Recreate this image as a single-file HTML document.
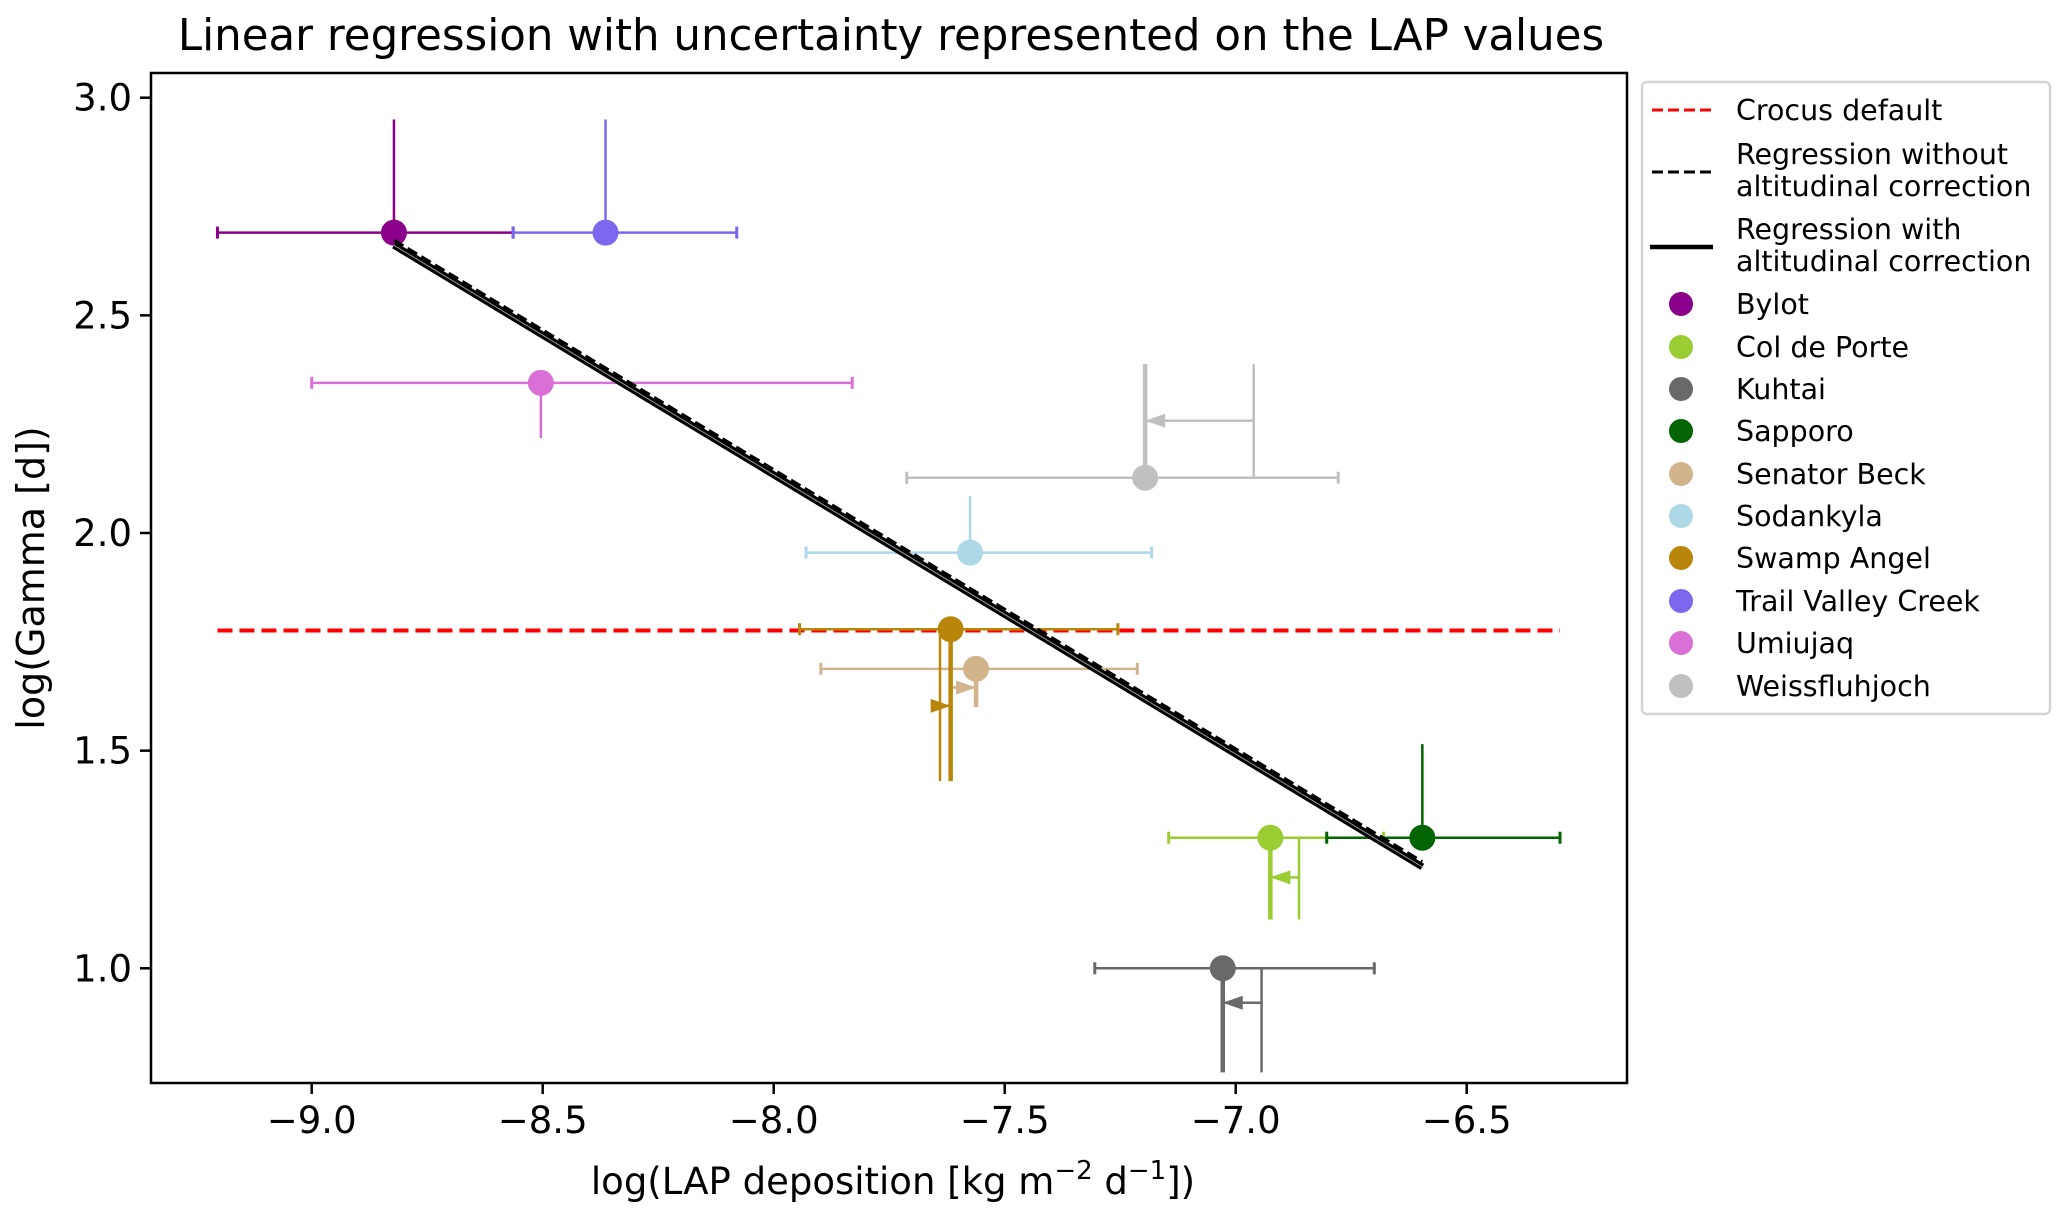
<!DOCTYPE html>
<html><head><meta charset="utf-8"><style>
html,body{margin:0;padding:0;background:#fff;}
svg{display:block;font-family:"DejaVu Sans","Liberation Sans",sans-serif;}
</style></head><body>
<svg id="chart" width="2067" height="1216" viewBox="0 0 2067 1216"></svg>
<script>
const stations = ["Bylot","Col de Porte","Kuhtai","Sapporo","Senator Beck","Sodankyla","Swamp Angel","Trail Valley Creek","Umiujaq","Weissfluhjoch"];
const colors = ["#8B008B","#9ACD32","#696969","#006400","#D2B48C","#ADD8E6","#B8860B","#7B68EE","#DA70D6","#C0C0C0"];
const xVals = [-8.822,-6.925,-7.028,-6.596,-7.562,-7.575,-7.617,-8.364,-8.504,-7.196];
const yVals = [2.69,1.30,1.0,1.30,1.688,1.955,1.779,2.69,2.345,2.127];
const xLow  = [-9.204,-7.145,-7.305,-6.803,-7.898,-7.930,-7.944,-8.564,-9.0,-7.712];
const xHigh = [-8.564,-6.680,-6.700,-6.298,-7.213,-7.182,-7.255,-8.080,-7.830,-6.778];
const yErrEnd = [2.95,1.112,0.761,1.515,1.60,2.085,1.43,2.95,2.218,2.388];
const xOrig = [null,-6.863,-6.944,null,-7.617,null,-7.640,null,null,-6.961];
const arrowY = [null,1.209,0.921,null,1.645,null,1.603,null,null,2.258];
const regWith = [[-8.822,2.661],[-6.596,1.233]];
const regWithout = [[-8.822,2.673],[-6.596,1.245]];
const crocusY = 1.776;
const crocusX = [-9.204,-6.298];
const xTicks = [-9.0,-8.5,-8.0,-7.5,-7.0,-6.5];
const yTicks = [1.0,1.5,2.0,2.5,3.0];

const NS="http://www.w3.org/2000/svg";
const svg=document.getElementById('chart');
const X=v=>311.7+(v+9)*462;
const Y=v=>968.3-(v-1)*435.3;
function mk(tag,attrs,parent){const e=document.createElementNS(NS,tag);for(const k in attrs)e.setAttribute(k,attrs[k]);(parent||svg).appendChild(e);return e;}

const plot=mk('g',{});


const clip=mk('clipPath',{id:'cp'});mk('rect',{x:151,y:73,width:1476,height:1010},clip);
plot.setAttribute('clip-path','url(#cp)');

const cr=mk('line',{x1:X(crocusX[0]),x2:X(crocusX[1]),y1:Y(crocusY),y2:Y(crocusY),stroke:'#ff0000','stroke-width':4,'stroke-dasharray':'15 7'},plot);



stations.forEach((s,i)=>{
  const g=mk('g',{},plot);
  
  
  const c=colors[i],cx=X(xVals[i]),cy=Y(yVals[i]);
  mk('line',{x1:X(xLow[i]),x2:X(xHigh[i]),y1:cy,y2:cy,stroke:c,'stroke-width':2.5},g);
  [xLow[i],xHigh[i]].forEach(v=>mk('line',{x1:X(v),x2:X(v),y1:cy-6,y2:cy+6,stroke:c,'stroke-width':3},g));
  const corr=xOrig[i]!==null;
  mk('line',{x1:cx,x2:cx,y1:cy,y2:Y(yErrEnd[i]),stroke:c,'stroke-width':corr?4.5:2.5},g);
  if(corr){
    const ox=X(xOrig[i]),ay=Y(arrowY[i]);
    mk('line',{x1:ox,x2:ox,y1:cy,y2:Y(yErrEnd[i]),stroke:c,'stroke-width':2.5},g);
    mk('line',{x1:ox,x2:cx,y1:ay,y2:ay,stroke:c,'stroke-width':2.5},g);
    const dir=cx<ox?-1:1;
    mk('polygon',{points:`${cx},${ay} ${cx-dir*20},${ay-7} ${cx-dir*20},${ay+7}`,fill:c},g);
  }
  mk('circle',{cx:cx,cy:cy,r:13,fill:c},g);
});

const rw=mk('line',{x1:X(regWith[0][0]),y1:Y(regWith[0][1]),x2:X(regWith[1][0]),y2:Y(regWith[1][1]),stroke:'#000','stroke-width':7},plot);


mk('line',{x1:X(regWith[0][0]),y1:Y(regWith[0][1]),x2:X(regWith[1][0]),y2:Y(regWith[1][1]),stroke:'#999','stroke-width':1},plot);
const rwo=mk('line',{x1:X(regWithout[0][0]),y1:Y(regWithout[0][1]),x2:X(regWithout[1][0]),y2:Y(regWithout[1][1]),stroke:'#000','stroke-width':3,'stroke-dasharray':'11 5'},plot);



const fr=mk('rect',{x:151,y:73,width:1476,height:1010,fill:'none',stroke:'#000','stroke-width':2.5});



xTicks.forEach(t=>{
  mk('line',{x1:X(t),x2:X(t),y1:1083,y2:1094,stroke:'#000','stroke-width':2.5});
  const tx=mk('text',{x:X(t),y:1133,'text-anchor':'middle','font-size':37});
  tx.textContent=t.toFixed(1).replace('-','\u2212');
  
  
});
yTicks.forEach(t=>{
  mk('line',{x1:140,x2:151,y1:Y(t),y2:Y(t),stroke:'#000','stroke-width':2.5});
  const tx=mk('text',{x:132,y:Y(t)+13,'text-anchor':'end','font-size':37});
  tx.textContent=t.toFixed(1);
  
  
});
</script>
<svg style="position:absolute;left:0;top:0" width="2067" height="1216">
<text x="891" y="50" text-anchor="middle" font-size="43.5">Linear regression with uncertainty represented on the LAP values</text>
<text x="893" y="1194" text-anchor="middle" font-size="37">log(LAP deposition [kg m<tspan dy="-15" font-size="26">−2</tspan><tspan dy="15"> d</tspan><tspan dy="-15" font-size="26">−1</tspan><tspan dy="15">])</tspan></text>
<text x="0" y="0" transform="translate(44,578) rotate(-90)" text-anchor="middle" font-size="38">log(Gamma [d])</text>
<g font-size="28.5">
<rect x="1642" y="82" width="408" height="632" rx="5" fill="#fff" stroke="#d5d5d5" stroke-width="2.5"/>
<line x1="1652" x2="1711" y1="110" y2="110" stroke="#f00" stroke-width="3" stroke-dasharray="11 5"/>
<text x="1736" y="120">Crocus default</text>
<line x1="1652" x2="1711" y1="172" y2="172" stroke="#000" stroke-width="3" stroke-dasharray="11 5"/>
<text x="1736" y="164">Regression without</text>
<text x="1736" y="196">altitudinal correction</text>
<line x1="1650" x2="1713" y1="247" y2="247" stroke="#000" stroke-width="4.5"/>
<text x="1736" y="239">Regression with</text>
<text x="1736" y="271">altitudinal correction</text>
<circle cx="1681" cy="304" r="12" fill="#8B008B"/><text x="1736" y="314">Bylot</text>
<circle cx="1681" cy="347" r="12" fill="#9ACD32"/><text x="1736" y="357">Col de Porte</text>
<circle cx="1681" cy="389" r="12" fill="#696969"/><text x="1736" y="399">Kuhtai</text>
<circle cx="1681" cy="431" r="12" fill="#006400"/><text x="1736" y="441">Sapporo</text>
<circle cx="1681" cy="474" r="12" fill="#D2B48C"/><text x="1736" y="484">Senator Beck</text>
<circle cx="1681" cy="516" r="12" fill="#ADD8E6"/><text x="1736" y="526">Sodankyla</text>
<circle cx="1681" cy="558" r="12" fill="#B8860B"/><text x="1736" y="568">Swamp Angel</text>
<circle cx="1681" cy="601" r="12" fill="#7B68EE"/><text x="1736" y="611">Trail Valley Creek</text>
<circle cx="1681" cy="643" r="12" fill="#DA70D6"/><text x="1736" y="653">Umiujaq</text>
<circle cx="1681" cy="686" r="12" fill="#C0C0C0"/><text x="1736" y="696">Weissfluhjoch</text>
</g>
</svg>
</body></html>
